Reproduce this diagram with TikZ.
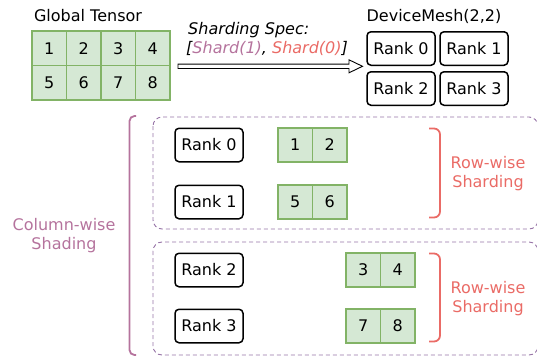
\documentclass[tikz,border=0pt]{standalone}
\usepackage{fontspec}
\setmainfont{DejaVu Sans}
\usepackage{tikz}
\usetikzlibrary{positioning}

\definecolor{cellfill}{HTML}{D5E8D4}
\definecolor{celldraw}{HTML}{82B366}
\definecolor{colpurple}{HTML}{B5739D}
\definecolor{rowred}{HTML}{EA6B66}
\definecolor{dashpurple}{HTML}{9673A6}

\begin{document}
\begin{tikzpicture}[x=1pt,y=-1pt,
  every node/.style={font=\fontsize{16}{19}\selectfont, inner sep=0pt},
  cell/.style={draw=celldraw, fill=cellfill, line width=1.8pt, minimum width=34.5pt, minimum height=34.5pt},
  rank/.style={draw=black, line width=1.5pt, rounded corners=4pt, minimum width=68pt, minimum height=33.5pt},
  group/.style={draw=dashpurple, dash pattern=on 4pt off 3pt, line width=0.9pt, rounded corners=9pt},
  colbrace/.style={draw=colpurple, line width=1.8pt, rounded corners=5pt},
  rowbrace/.style={draw=rowred, line width=1.8pt, rounded corners=6pt}]
\useasboundingbox (0,0) rectangle (537,356);
% global tensor
\node (gtl) at (88,16) {Global Tensor};
\node[cell] (g1) at (49.25,48.25) {1};
\node[cell] (g2) at (83.75,48.25) {2};
\node[cell] (g3) at (118.25,48.25) {3};
\node[cell] (g4) at (152.75,48.25) {4};
\node[cell] (g5) at (49.25,82.75) {5};
\node[cell] (g6) at (83.75,82.75) {6};
\node[cell] (g7) at (118.25,82.75) {7};
\node[cell] (g8) at (152.75,82.75) {8};
% device mesh
\node (dml) at (434,16) {DeviceMesh(2,2)};
\node[rank] (m0) at (401,48.5) {Rank 0};
\node[rank] (m1) at (474,48.5) {Rank 1};
\node[rank] (m2) at (401,88.5) {Rank 2};
\node[rank] (m3) at (474,88.5) {Rank 3};
% sharding spec arrow
\coordinate (as) at (178,66.3);
\coordinate (at) at (362.5,66.3);
\draw[line width=0.9pt, fill=white] (as) ++(0,-2.2) -- ++(171,0) -- ++(0,-4.3)
  -- (at) -- ++(-13.5,6.5) -- ++(0,-4.3) -- ++(-171,0) -- cycle;
\node[anchor=west, font=\fontsize{16}{19}\selectfont\itshape] (spec1) at (188,30) {Sharding Spec:};
\node[anchor=west, font=\fontsize{16}{19}\selectfont\itshape] (spec2) at (186,48)
  {[\textcolor{colpurple}{Shard(1)}, \textcolor{rowred}{Shard(0)}]};
% groups
\draw[group] (153,117) rectangle (538,229);
\draw[group] (153,242) rectangle (538,355);
\node[rank] (r0) at (209,145) {Rank 0};
\node[rank] (r1) at (209,202) {Rank 1};
\node[rank] (r2) at (209,270) {Rank 2};
\node[rank] (r3) at (209,326) {Rank 3};
\node[cell, minimum height=34pt] (s1) at (295.25,145) {1};
\node[cell, minimum height=34pt] (s2) at (329.75,145) {2};
\node[cell, minimum height=34pt] (s5) at (295.25,202) {5};
\node[cell, minimum height=34pt] (s6) at (329.75,202) {6};
\node[cell, minimum height=34pt] (s3) at (363.25,270) {3};
\node[cell, minimum height=34pt] (s4) at (397.75,270) {4};
\node[cell, minimum height=34pt] (s7) at (363.25,326) {7};
\node[cell, minimum height=34pt] (s8) at (397.75,326) {8};
% braces
\draw[colbrace] (136,116) -- (129.5,116) -- (129.5,355) -- (136,355);
\node[text=colpurple, align=center] (cwl) at (64,236) {Column-wise\\Shading};
\draw[rowbrace] (429,128.5) -- (440,128.5) -- (440,217.5) -- (429,217.5);
\draw[rowbrace] (429,253.5) -- (440,253.5) -- (440,341.5) -- (429,341.5);
\node[text=rowred, align=center] (rwl1) at (488,174) {Row-wise\\Sharding};
\node[text=rowred, align=center] (rwl2) at (488,298.5) {Row-wise\\Sharding};
\end{tikzpicture}
\end{document}
